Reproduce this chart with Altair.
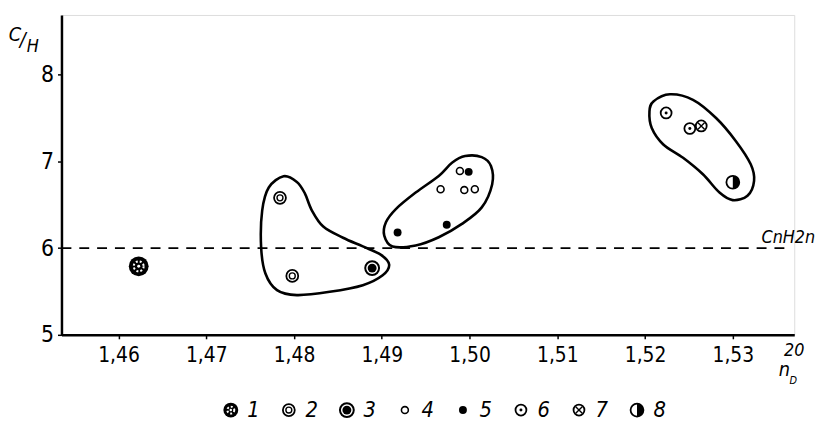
import altair as alt
import pandas as pd

# ---- data ----
pt_type = [1, 2, 2, 3, 4, 5, 4, 4, 4, 5, 5, 6, 6, 7, 8]
pt_nd = [1.4623, 1.4784, 1.4798, 1.4889, 1.4989, 1.4999, 1.4967, 1.4994, 1.5006,
         1.4974, 1.4918, 1.5224, 1.5251, 1.5264, 1.5300]
pt_ch = [5.79, 6.58, 5.68, 5.77, 6.89, 6.88, 6.68, 6.67, 6.68,
         6.27, 6.18, 7.56, 7.38, 7.41, 6.76]

blob1_nd = [1.47881, 1.48032, 1.48122, 1.48201, 1.48333, 1.48558, 1.48784, 1.48991,
            1.49084, 1.49010, 1.48784, 1.48407, 1.48032, 1.47806, 1.47674, 1.47625,
            1.47637, 1.47712]
blob1_ch = [6.829, 6.764, 6.635, 6.440, 6.249, 6.120, 6.020, 5.923,
            5.809, 5.687, 5.573, 5.496, 5.458, 5.515, 5.707, 6.011,
            6.432, 6.699]
blob2_nd = [1.49950, 1.50139, 1.50244, 1.50258, 1.50139, 1.49913, 1.49649, 1.49386,
            1.49123, 1.49028, 1.49047, 1.49160, 1.49386, 1.49649, 1.49800]
blob2_ch = [7.062, 7.050, 6.947, 6.738, 6.470, 6.280, 6.126, 6.031,
            6.019, 6.145, 6.298, 6.451, 6.641, 6.833, 6.985]
blob3_nd = [1.52283, 1.52546, 1.52809, 1.53035, 1.53204, 1.53242, 1.53167, 1.52998,
            1.52848, 1.52659, 1.52433, 1.52208, 1.52076, 1.52050, 1.52095]
blob3_ch = [7.775, 7.711, 7.501, 7.234, 6.967, 6.776, 6.604, 6.554,
            6.641, 6.852, 7.042, 7.196, 7.386, 7.577, 7.692]

nd_ticks = [1.46, 1.47, 1.48, 1.49, 1.50, 1.51, 1.52, 1.53]
ch_ticks = [5, 6, 7, 8]
legend_types = [1, 2, 3, 4, 5, 6, 7, 8]
ref_ch = 6

FONT = "DejaVu Sans Condensed, Liberation Sans Narrow, Liberation Sans, sans-serif"

pts = pd.DataFrame({"nd": pt_nd, "ch": pt_ch, "t": pt_type})
blobs = pd.concat([
    pd.DataFrame({"nd": blob1_nd, "ch": blob1_ch, "g": 1, "i": range(len(blob1_nd))}),
    pd.DataFrame({"nd": blob2_nd, "ch": blob2_ch, "g": 2, "i": range(len(blob2_nd))}),
    pd.DataFrame({"nd": blob3_nd, "ch": blob3_ch, "g": 3, "i": range(len(blob3_nd))}),
])
leg = pd.DataFrame({"t": legend_types})

xs = alt.Scale(domain=[1.4535, 1.537], nice=False, zero=False)
ys = alt.Scale(domain=[5, 8.69], nice=False, zero=False)
X = alt.X("nd:Q", scale=xs, title=None,
          axis=alt.Axis(values=nd_ticks, grid=False, tickSize=4, tickWidth=1.5,
                        domainWidth=2.5, domainColor="black", tickColor="black",
                        labelColor="black", labelFont=FONT, labelFontSize=21,
                        labelPadding=6,
                        labelExpr="replace(format(datum.value, '.2f'), '.', ',')"))
Y = alt.Y("ch:Q", scale=ys, title=None,
          axis=alt.Axis(values=ch_ticks, grid=False, tickSize=4, tickWidth=1.5,
                        domainWidth=2.5, domainColor="black", tickColor="black",
                        labelColor="black", labelFont=FONT, labelFontSize=23,
                        labelPadding=4, format="d"))

layers = []
# outlines around groups
layers.append(alt.Chart(blobs).mark_line(interpolate="cardinal-closed", color="black",
                                         strokeWidth=2.6)
              .encode(x=X, y=Y, detail="g:N", order="i:Q"))
# C_nH_2n reference line
layers.append(alt.Chart(pd.DataFrame({"ch": [ref_ch]})).mark_rule(
    color="black", strokeWidth=1.8, strokeDash=[10, 8])
    .encode(y=Y, x=alt.value(0), x2=alt.value(735)))

XPATH = "M-0.6,-0.6L0.6,0.6M-0.6,0.6L0.6,-0.6"
HALF = "M0,-1A1,1,0,0,1,0,1Z"
comps = [
    dict(t=1, shape="circle", filled=True, color="black", size=400, lsize=225),
    dict(t=1, shape="circle", filled=False, color="white", sw=2, dash=[2, 2], size=100, lsize=49),
    dict(t=1, shape="circle", filled=True, color="white", size=9, lsize=6),
    dict(t=2, shape="circle", filled=False, color="black", sw=1.8, size=144),
    dict(t=2, shape="circle", filled=False, color="black", sw=1.4, size=36),
    dict(t=3, shape="circle", filled=False, color="black", sw=2, size=196),
    dict(t=3, shape="circle", filled=True, color="black", size=81),
    dict(t=4, shape="circle", filled=False, color="black", sw=1.6, size=49),
    dict(t=5, shape="circle", filled=True, color="black", size=64),
    dict(t=6, shape="circle", filled=False, color="black", sw=1.8, size=121),
    dict(t=6, shape="circle", filled=True, color="black", size=9),
    dict(t=7, shape="circle", filled=False, color="black", sw=1.8, size=121),
    dict(t=7, shape=XPATH, filled=False, color="black", sw=1.4, size=121),
    dict(t=8, shape="circle", filled=False, color="black", sw=1.8, size=169),
    dict(t=8, shape=HALF, filled=True, color="black", size=169),
]

LX = alt.X("lx:Q", scale=None)
LY = alt.Y("ly:Q", scale=None)

for c in comps:
    kw = dict(shape=c["shape"], filled=c["filled"], color=c["color"], opacity=1)
    if not c["filled"]:
        kw["strokeWidth"] = c["sw"]
    if "dash" in c:
        kw["strokeDash"] = c["dash"]
    layers.append(alt.Chart(pts).transform_filter(f"datum.t == {c['t']}")
                  .mark_point(size=c["size"], **kw).encode(x=X, y=Y))
    layers.append(alt.Chart(leg).transform_filter(f"datum.t == {c['t']}")
                  .transform_calculate(lx="171 + 58.6 * (datum.t - 1)", ly="399")
                  .mark_point(size=c.get("lsize", c["size"]), **kw).encode(x=LX, y=LY))

# legend numbers
layers.append(alt.Chart(leg).transform_calculate(lx="194 + 58.6 * (datum.t - 1)", ly="399",
                                                  lab="'' + datum.t")
              .mark_text(font=FONT, fontSize=22, fontStyle="italic", color="black",
                         baseline="middle", align="center")
              .encode(x=LX, y=LY, text="lab:N"))

def note(txt, x, y, size=19, align="center"):
    return alt.Chart(pd.DataFrame({"s": [txt]})).mark_text(
        font=FONT, fontSize=size, fontStyle="italic", color="black",
        baseline="middle", align=align).encode(x=alt.value(x), y=alt.value(y), text="s:N")

layers += [
    note("C", -47, 20, 20), note("/", -39, 25, 20), note("H", -29, 32, 18),
    note("CnH2n", 734, 225, 18),
    note("20", 740, 339, 18),
    note("n", 730, 359, 20),
    note("D", 739, 370, 11),
]

chart = alt.layer(*layers).properties(
    width=740, height=323,
    autosize=alt.AutoSizeParams(type="none"),
    padding={"left": 54, "top": 5, "right": 27, "bottom": 87},
).configure_view(stroke=None).configure(background="white")

chart.save("out.html", embed_options={"renderer": "svg", "actions": False})
